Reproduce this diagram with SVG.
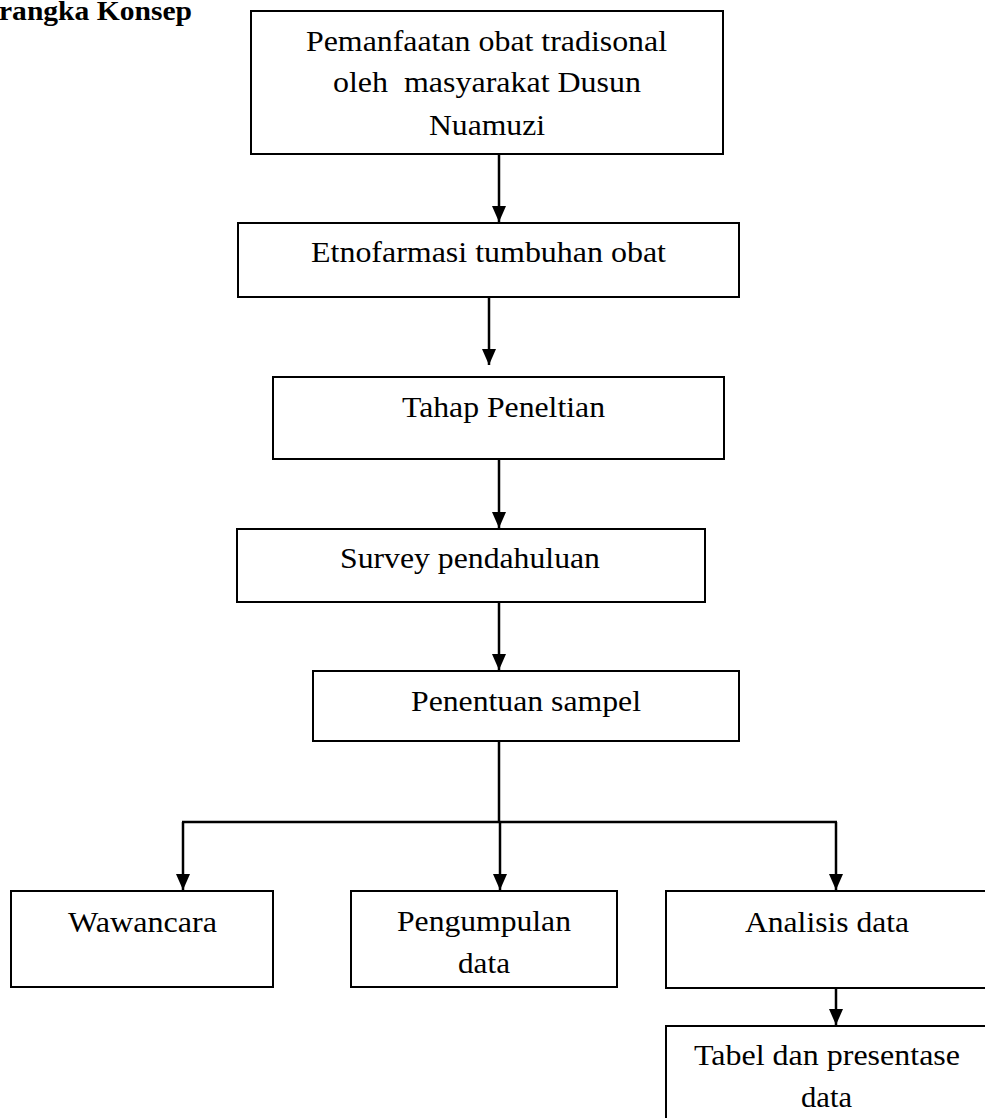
<svg xmlns="http://www.w3.org/2000/svg" width="985" height="1118" viewBox="0 0 985 1118">
<style>
.box{fill:#fff;stroke:#000;stroke-width:2}
.t{font-family:"Liberation Serif","Times New Roman",Times,serif;font-size:30px;fill:#000}
.title{font-family:"Liberation Serif","Times New Roman",Times,serif;font-size:27px;font-weight:bold;fill:#000}
.c{stroke:#000;stroke-width:2.5;fill:none}
</style>
<defs>
<marker id="ah" markerUnits="userSpaceOnUse" markerWidth="16" markerHeight="14" refX="16" refY="7" orient="auto">
<path d="M0,0 L16,7 L0,14 z" fill="#000"/>
</marker>
</defs>
<rect width="985" height="1118" fill="#fff"/>
<text class="title" x="-1" y="20" textLength="193" lengthAdjust="spacingAndGlyphs">rangka Konsep</text>

<g id="connectors">
<line class="c" x1="499" y1="154" x2="499" y2="222" marker-end="url(#ah)"/>
<line class="c" x1="489" y1="297" x2="489" y2="365" marker-end="url(#ah)"/>
<line class="c" x1="499" y1="459" x2="499" y2="528" marker-end="url(#ah)"/>
<line class="c" x1="499" y1="602" x2="499" y2="670" marker-end="url(#ah)"/>
<line class="c" x1="499" y1="741" x2="499" y2="822"/>
<line class="c" x1="182" y1="822" x2="837" y2="822"/>
<line class="c" x1="183" y1="822" x2="183" y2="890" marker-end="url(#ah)"/>
<line class="c" x1="500" y1="822" x2="500" y2="890" marker-end="url(#ah)"/>
<line class="c" x1="836" y1="822" x2="836" y2="890" marker-end="url(#ah)"/>
<line class="c" x1="836" y1="988" x2="836" y2="1025" marker-end="url(#ah)"/>
</g>

<g id="n1">
<rect class="box" x="251" y="11" width="472" height="143"/>
<text class="t" x="306" y="51" textLength="361" lengthAdjust="spacingAndGlyphs">Pemanfaatan obat tradisonal</text>
<text class="t" x="333" y="92" textLength="308" lengthAdjust="spacingAndGlyphs" xml:space="preserve">oleh  masyarakat Dusun</text>
<text class="t" x="429" y="135" textLength="116" lengthAdjust="spacingAndGlyphs">Nuamuzi</text>
</g>
<g id="n2">
<rect class="box" x="238" y="223" width="501" height="74"/>
<text class="t" x="311" y="262" textLength="355" lengthAdjust="spacingAndGlyphs">Etnofarmasi tumbuhan obat</text>
</g>
<g id="n3">
<rect class="box" x="273" y="377" width="451" height="82"/>
<text class="t" x="402" y="417" textLength="203" lengthAdjust="spacingAndGlyphs">Tahap Peneltian</text>
</g>
<g id="n4">
<rect class="box" x="237" y="529" width="468" height="73"/>
<text class="t" x="340" y="568" textLength="260" lengthAdjust="spacingAndGlyphs">Survey pendahuluan</text>
</g>
<g id="n5">
<rect class="box" x="313" y="671" width="426" height="70"/>
<text class="t" x="411" y="711" textLength="230" lengthAdjust="spacingAndGlyphs">Penentuan sampel</text>
</g>
<g id="n6">
<rect class="box" x="11" y="891" width="262" height="96"/>
<text class="t" x="68" y="932" textLength="149" lengthAdjust="spacingAndGlyphs">Wawancara</text>
</g>
<g id="n7">
<rect class="box" x="351" y="891" width="266" height="96"/>
<text class="t" x="397" y="931" textLength="174" lengthAdjust="spacingAndGlyphs">Pengumpulan</text>
<text class="t" x="458" y="973" textLength="52" lengthAdjust="spacingAndGlyphs">data</text>
</g>
<g id="n8">
<rect class="box" x="666" y="891" width="322" height="97"/>
<text class="t" x="745" y="932" textLength="164" lengthAdjust="spacingAndGlyphs">Analisis data</text>
</g>
<g id="n9">
<rect class="box" x="666" y="1026" width="322" height="100"/>
<text class="t" x="694" y="1065" textLength="266" lengthAdjust="spacingAndGlyphs">Tabel dan presentase</text>
<text class="t" x="801" y="1107" textLength="51" lengthAdjust="spacingAndGlyphs">data</text>
</g>
</svg>
